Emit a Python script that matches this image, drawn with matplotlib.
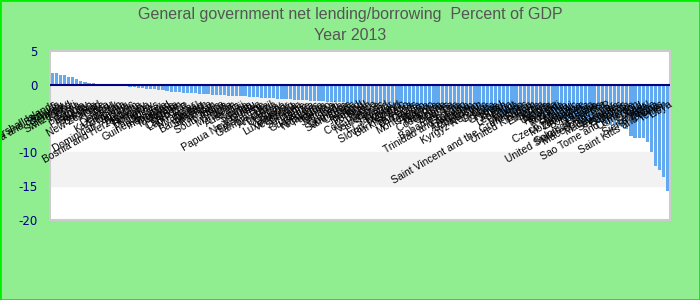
import numpy as np
import matplotlib
matplotlib.use("Agg")
import matplotlib.pyplot as plt
from matplotlib.patches import Rectangle

plt.rcParams['axes.unicode_minus'] = False

# country names, ordered as in the chart (highest to lowest)
countries = [
    "Marshall Islands", "Antigua and Barbuda", "Tuvalu", "Germany", "Switzerland",
    "Kiribati", "Korea", "Estonia", "Paraguay", "Sweden",
    "Bulgaria", "New Zealand", "Chile", "Latvia", "Peru",
    "Denmark", "Kazakhstan", "Lithuania", "Austria", "Dominican Republic",
    "Belgium", "Bosnia and Herzegovina", "Hungary", "Romania", "Turkey",
    "Philippines", "Guinea-Bissau", "Indonesia", "Thailand", "Malaysia",
    "Algeria", "Vietnam", "Cambodia", "Lao P.D.R.", "Myanmar",
    "Nepal", "Bhutan", "Bangladesh", "Sri Lanka", "Pakistan",
    "India", "South Africa", "China", "Mongolia", "Japan",
    "Australia", "Fiji", "Samoa", "Tonga", "Vanuatu",
    "Papua New Guinea", "Timor-Leste", "Gambia, The", "Brazil", "Argentina",
    "Uruguay", "Bolivia", "Ecuador", "Luxembourg", "Venezuela",
    "Guyana", "Suriname", "Belize", "Guatemala", "Honduras",
    "Nicaragua", "Panama", "Mexico", "Jamaica", "Haiti",
    "Grenada", "Dominica", "Saint Lucia", "Canada", "Iceland",
    "Ireland", "Portugal", "Spain", "Côte d'Ivoire", "France",
    "Netherlands", "Finland", "El Salvador", "Norway", "Poland",
    "Slovak Republic", "Burkina Faso", "Slovenia", "Barbados", "Croatia",
    "Montenegro", "Albania", "Kosovo", "Moldova", "Costa Rica",
    "Ukraine", "Belarus", "Russia", "Bahamas, The", "Georgia",
    "Trinidad and Tobago", "Armenia", "Azerbaijan", "Uzbekistan", "Tajikistan",
    "Kyrgyz Republic", "Cyprus", "Malta", "Greece", "Israel",
    "Jordan", "Lebanon", "Egypt", "Tunisia", "Morocco",
    "Saint Vincent and the Grenadines", "Sudan", "United Kingdom", "Ethiopia", "Serbia",
    "Kenya", "Uganda", "Rwanda", "Burundi", "Tanzania",
    "Zambia", "Malawi", "Czech Republic", "Mozambique", "Zimbabwe",
    "Botswana", "Namibia", "Lesotho", "Solomon Islands", "United States of America",
    "Macedonia, FYR", "Madagascar", "Mauritius", "Seychelles", "Comoros",
    "Angola", "Sao Tome and Principe", "Cameroon", "Chad", "Niger",
    "Senegal", "Sierra Leone", "Ghana", "Saint Kitts and Nevis", "Yemen",
    "Libya",
]

# net lending/borrowing, % of GDP, 2013
values = [
    1.8, 1.7, 1.5, 1.4, 1.2, 1.1, 0.8, 0.6, 0.45, 0.3, 0.3, 0.15, 0.15,
    0.05, 0.03, 0.0, -0.05, -0.2, -0.25, -0.3, -0.35, -0.4, -0.5,
    -0.55, -0.6, -0.65, -0.7, -0.8, -0.9, -1.0, -1.05, -1.1, -1.15,
    -1.2, -1.2, -1.25, -1.3, -1.35, -1.4, -1.45, -1.5, -1.5, -1.55,
    -1.6, -1.6, -1.65, -1.7, -1.7, -1.75, -1.8, -1.85,
    -1.9, -1.95, -2.0, -2.0, -2.05, -2.1, -2.1, -2.15, -2.2, -2.25,
    -2.3, -2.3, -2.35, -2.4, -2.4, -2.45, -2.5, -2.5, -2.55, -2.6,
    -2.6, -2.65, -2.7, -2.7, -2.75, -2.8, -2.8, -2.85, -2.9, -2.9,
    -2.95, -3.0, -3.0, -3.05, -3.1, -3.1, -3.2, -3.2, -3.25, -3.3,
    -3.3, -3.35, -3.4, -3.4, -3.5, -3.5, -3.55, -3.6, -3.6, -3.7,
    -3.7, -3.75, -3.8, -3.8, -3.9, -3.9, -4.0, -4.0, -4.1, -4.1,
    -4.2, -4.2, -4.3, -4.3, -4.4, -4.4, -4.5, -4.5, -4.6, -4.7,
    -4.7, -4.8, -4.9, -4.9, -5.0, -5.1, -5.1, -5.2, -5.3, -5.4,
    -5.5, -5.5, -5.6, -5.7, -5.8, -5.9, -6.0, -6.1, -6.2,
    -6.6, -7.5, -7.8, -7.8, -7.9, -8.5, -9.9, -12.0, -12.6, -13.7, -15.7,
]

yticks = [-20, -15, -10, -5, 0, 5]

n = min(len(countries), len(values))
countries = countries[:n]
values = values[:n]
x = np.arange(n)

fig = plt.figure(figsize=(7, 3), dpi=100, facecolor='#90EE90')
ax = fig.add_axes([50 / 700, 80 / 300, 620 / 700, 169 / 300])
ax.set_facecolor('white')

# alternating bands
ax.axhspan(-5, 0, color='#f2f2f2', zorder=0)
ax.axhspan(-15, -10, color='#f2f2f2', zorder=0)

ax.bar(x, values, width=0.78, color='#63a9f0', zorder=2)
ax.axhline(0, color='#000080', lw=1.5, zorder=3)

ax.set_xlim(-0.5, n - 0.5)
ax.set_ylim(-20, 5)
ax.set_yticks(yticks)
ax.set_yticklabels([str(t) for t in yticks], color='#000080', fontsize=8.5)
ax.tick_params(axis='y', length=0, pad=9)
ax.set_xticks([])
for s in ax.spines.values():
    s.set_color('#cccccc')
    s.set_linewidth(1.5)

# country labels hang under the zero line, over the bars
for xi, name in zip(x, countries):
    ax.text(xi + 0.8, -2.8, name, rotation=30, rotation_mode='anchor',
            ha='right', va='center', fontsize=7.5, family='Liberation Sans',
            color='black', clip_on=False, zorder=4)

title_kw = dict(ha='center', va='center', fontsize=11.5, color='#555555',
                family='Liberation Sans')
fig.text(0.5, 1 - 14 / 300, 'General government net lending/borrowing  Percent of GDP', **title_kw)
fig.text(0.5, 1 - 36 / 300, 'Year 2013', **title_kw)

fig.patches.append(Rectangle((0, 0), 1, 1, transform=fig.transFigure,
                             fill=False, edgecolor='#00ee00', lw=2))

fig.savefig('out.png', dpi=100, facecolor=fig.get_facecolor())
